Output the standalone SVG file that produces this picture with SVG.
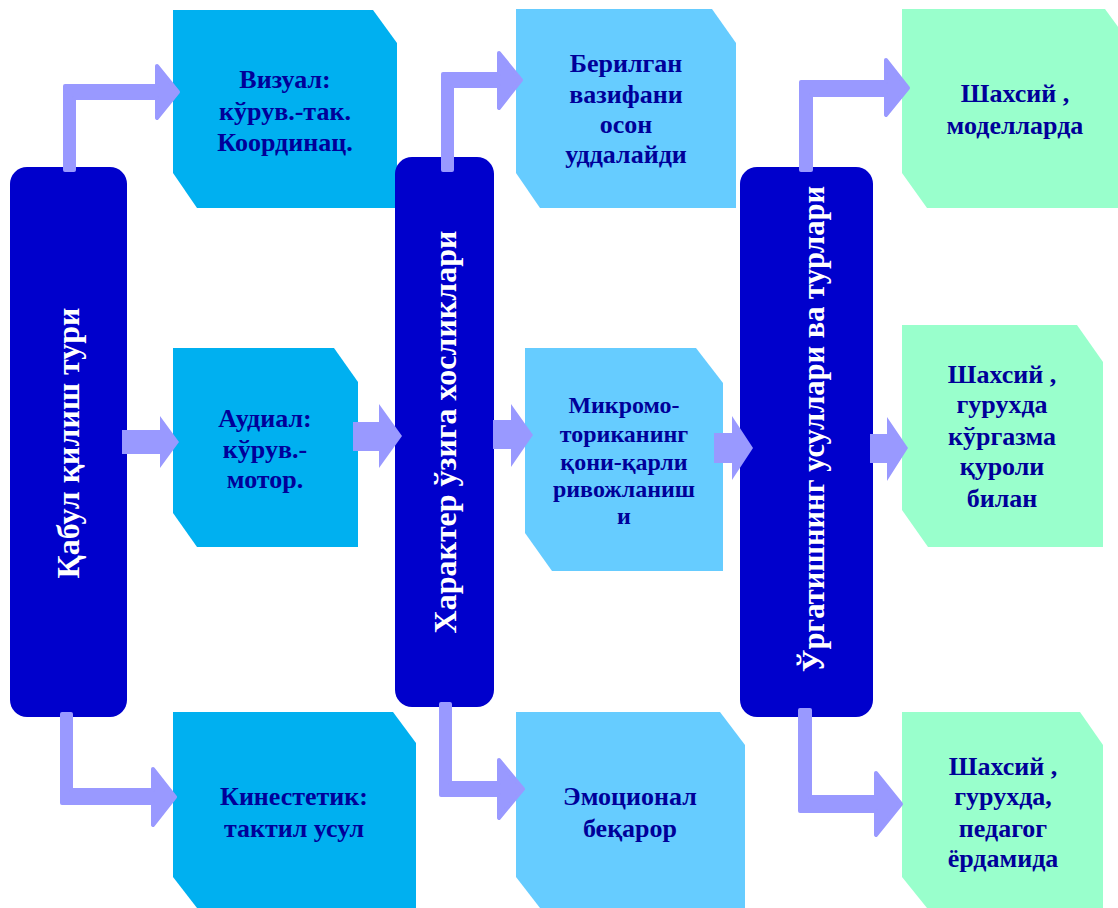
<svg xmlns="http://www.w3.org/2000/svg" width="1118" height="908" viewBox="0 0 1118 908">
<style>
.hub{fill:#0000CC}
.c1{fill:#00B0F0}
.c2{fill:#66CCFF}
.c3{fill:#99FFCC}
.arr{fill:#9999FF}
.elb{fill:#9999FF;stroke:#9999FF;stroke-width:4;stroke-linejoin:round}
.t{font-family:"Liberation Serif","Times New Roman",serif;font-weight:bold;fill:#000099;text-anchor:middle}
.vt{font-family:"Liberation Serif","Times New Roman",serif;font-weight:bold;fill:#FFFFFF;text-anchor:middle;font-size:32px}
</style>
<rect width="1118" height="908" fill="#FFFFFF"/>

<g id="box-vizual">
<polygon class="c1" points="173,10 373,10 397,43 397,208 197,208 173,173"/>
<text class="t" font-size="26" x="285"><tspan x="285" y="88">Визуал:</tspan><tspan x="285" y="120">кўрув.-так.</tspan><tspan x="285" y="151">Координац.</tspan></text>
</g>
<g id="box-audial">
<polygon class="c1" points="173,348 334,348 358,382 358,547 197,547 173,513"/>
<text class="t" font-size="26" x="265"><tspan x="265" y="427">Аудиал:</tspan><tspan x="265" y="458">кўрув.-</tspan><tspan x="265" y="488">мотор.</tspan></text>
</g>
<g id="box-kinestetik">
<polygon class="c1" points="173,712 393,712 416,743 416,908 197,908 173,877"/>
<text class="t" font-size="26" x="294"><tspan x="294" y="805">Кинестетик:</tspan><tspan x="294" y="837">тактил усул</tspan></text>
</g>

<g id="box-berilgan">
<polygon class="c2" points="516,9 712,9 736,43 736,208 540,208 516,173"/>
<text class="t" font-size="26" x="626"><tspan x="626" y="72">Берилган</tspan><tspan x="626" y="103">вазифани</tspan><tspan x="626" y="133">осон</tspan><tspan x="626" y="163">уддалайди</tspan></text>
</g>
<g id="box-mikromotorika">
<polygon class="c2" points="525,348 696,348 723,383 723,571 552,571 525,533"/>
<text class="t" font-size="24" x="624"><tspan x="624" y="413">Микромо-</tspan><tspan x="624" y="442">ториканинг</tspan><tspan x="624" y="470">қони-қарли</tspan><tspan x="624" y="497">ривожланиш</tspan><tspan x="624" y="524">и</tspan></text>
</g>
<g id="box-emotsional">
<polygon class="c2" points="516,712 720,712 745,745 745,908 540,908 516,877"/>
<text class="t" font-size="26" x="630"><tspan x="630" y="805">Эмоционал</tspan><tspan x="630" y="837">беқарор</tspan></text>
</g>

<g id="box-shaxsiy-model">
<polygon class="c3" points="902,9 1105,9 1130,43 1130,208 927,208 902,173"/>
<text class="t" font-size="26" x="1015"><tspan x="1015" y="102">Шахсий ,</tspan><tspan x="1015" y="134">моделларда</tspan></text>
</g>
<g id="box-shaxsiy-kurgazma">
<polygon class="c3" points="902,325 1077,325 1103,362 1103,547 928,547 902,510"/>
<text class="t" font-size="26" x="1002"><tspan x="1002" y="383">Шахсий ,</tspan><tspan x="1002" y="413">гурухда</tspan><tspan x="1002" y="445">кўргазма</tspan><tspan x="1002" y="475">қуроли</tspan><tspan x="1002" y="507">билан</tspan></text>
</g>
<g id="box-shaxsiy-pedagog">
<polygon class="c3" points="902,712 1080,712 1103,745 1103,908 927,908 902,877"/>
<text class="t" font-size="26" x="1003"><tspan x="1003" y="775">Шахсий ,</tspan><tspan x="1003" y="805">гурухда,</tspan><tspan x="1003" y="837">педагог</tspan><tspan x="1003" y="867">ёрдамида</tspan></text>
</g>

<g id="hub-qabul">
<rect class="hub" x="10" y="167" width="117" height="550" rx="17"/>
<text class="vt" transform="translate(79,443) rotate(-90)">Қабул қилиш тури</text>
</g>
<g id="hub-xarakter">
<rect class="hub" x="395" y="157" width="99" height="550" rx="17"/>
<text class="vt" transform="translate(456,432) rotate(-90)">Характер ўзига хосликлари</text>
</g>
<g id="hub-urgatish">
<rect class="hub" x="740" y="167" width="133" height="550" rx="17"/>
<text class="vt" style="font-size:30.5px" transform="translate(824,429) rotate(-90)">Ўргатишнинг усуллари ва турлари</text>
</g>

<g id="connectors">
<polygon class="elb" points="65,170 65,86 157,86 157,66 178,92 157,118 157,98 74,98 74,170"/>
<polygon class="elb" points="62,714 71,714 71,790 153,790 153,769 175,797 153,825 153,803 62,803"/>
<polygon class="arr" points="122,430 160,430 160,416 179,442 160,468 160,454 122,454"/>
<polygon class="arr" points="353,422 379,422 379,404 402,436 379,468 379,451 353,451"/>
<polygon class="elb" points="443,170 443,74 499,74 499,53 521,80 499,108 499,86 452,86 452,170"/>
<polygon class="arr" points="493,420 511,420 511,404 533,435 511,467 511,449 493,449"/>
<polygon class="arr" points="714,433 732,433 732,416 753,448 732,480 732,463 714,463"/>
<polygon class="elb" points="441,704 450,704 450,783 499,783 499,760 523,789 499,818 499,795 441,795"/>
<polygon class="elb" points="801,170 801,82 886,82 886,60 908,88 886,115 886,95 811,95 811,170"/>
<polygon class="arr" points="870,434 887,434 887,417 908,448 887,481 887,463 870,463"/>
<polygon class="elb" points="800,710 810,710 810,797 876,797 876,773 901,804 876,835 876,811 800,811"/>
</g>
</svg>
